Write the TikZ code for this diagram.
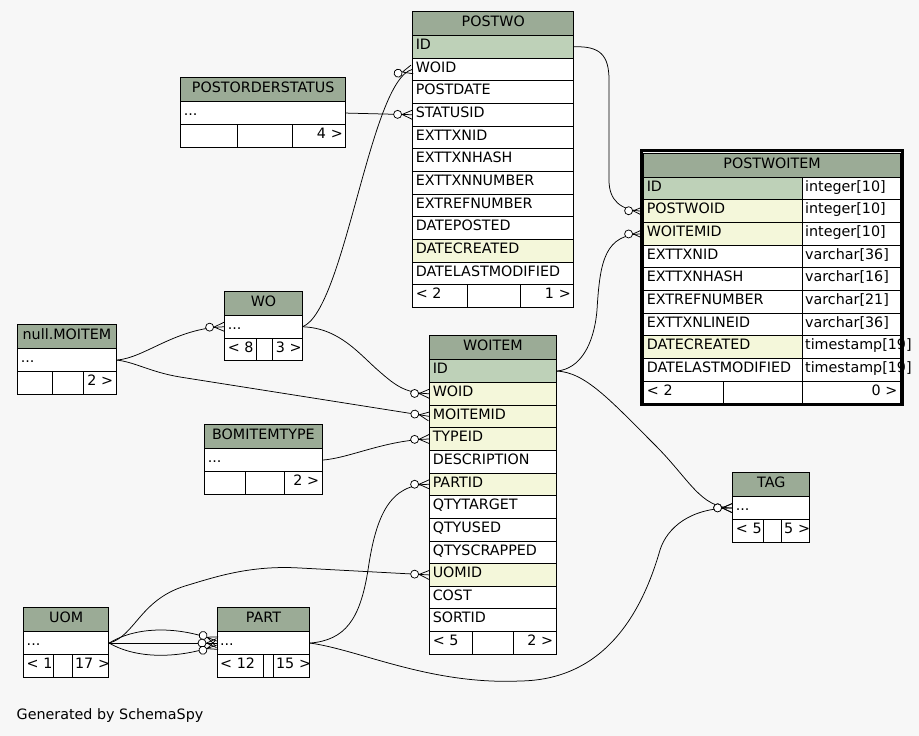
\documentclass[tikz,border=0pt]{standalone}
\usepackage{fontspec}
\setmainfont{DejaVu Sans}
\usetikzlibrary{decorations.markings}
\definecolor{ssHead}{HTML}{9BAB96}
\definecolor{ssKey}{HTML}{BED1B8}
\definecolor{ssIndex}{HTML}{F4F7DA}
\definecolor{ssBack}{HTML}{F7F7F7}
\tikzset{
  tblcell/.style  = {draw, line width=0.9pt, anchor=north west, inner xsep=3pt, inner ysep=1pt,
                     text height=10.5pt, text depth=5pt, font=\fontsize{14.3}{16}\selectfont},
  tblhead/.style  = {tblcell, fill=ssHead, minimum width=#1, minimum height=24pt},
  colrow/.code    = {\pgfmathsetmacro\cellw{#1}\pgfmathsetmacro\celltw{#1-6}%
                     \tikzset{tblcell, fill=white, minimum height=22.65pt,
                              minimum width/.expanded=\cellw pt, text width/.expanded=\celltw pt,
                              align=left}},
  pkrow/.style    = {colrow=#1, fill=ssKey},
  idxrow/.style   = {colrow=#1, fill=ssIndex},
  footrow/.style  = {colrow=#1, align=right},
  relation/.style = {line width=0.75pt, black},
  crowodot/.style = {relation, decoration={markings, mark=at position -0.2pt with {
                       \draw[relation] (-10,0) -- (0,4.5) (-10,0) -- (0,-4.5);
                       \draw[relation, fill=white] (-14.5,0) circle (4pt);}},
                     postaction={decorate}},
  frame/.style    = {line width=3pt, black},
  credit/.style   = {anchor=base west, inner sep=0pt, font=\fontsize{14.3}{16}\selectfont},
}

\begin{document}
\begin{tikzpicture}[x=1pt, y=-1pt]
  \useasboundingbox[fill=ssBack] (0,0) rectangle (919,736);

  % POSTWO
  \node[tblhead=161] (postwo) at (412.3,11) {POSTWO};
  \foreach \col/\kind [count=\i from 0] in {ID/pkrow, WOID/colrow, POSTDATE/colrow, STATUSID/colrow,
      EXTTXNID/colrow, EXTTXNHASH/colrow, EXTTXNNUMBER/colrow, EXTREFNUMBER/colrow,
      DATEPOSTED/colrow, DATECREATED/idxrow, DATELASTMODIFIED/colrow}
    \node[\kind=161] (postwo-\col) at (412.3,{35+22.65*\i}) {\col};
  \node[colrow=55] (postwo-f1) at (412.3,284.15) {\mbox{< 2}};
  \node[colrow=53] (postwo-f2) at (467.3,284.15) {};
  \node[footrow=53] (postwo-f3) at (520.3,284.15) {\mbox{1 >}};

  % WOITEM
  \node[tblhead=126.4] (woitem) at (429.3,335.3) {WOITEM};
  \foreach \col/\kind [count=\i from 0] in {ID/pkrow, WOID/idxrow, MOITEMID/idxrow, TYPEID/idxrow,
      DESCRIPTION/colrow, PARTID/idxrow, QTYTARGET/colrow, QTYUSED/colrow,
      QTYSCRAPPED/colrow, UOMID/idxrow, COST/colrow, SORTID/colrow}
    \node[\kind=126.4] (woitem-\col) at (429.3,{359.3+22.65*\i}) {\col};
  \node[colrow=43] (woitem-f1) at (429.3,631.1) {\mbox{< 5}};
  \node[colrow=41] (woitem-f2) at (472.3,631.1) {};
  \node[footrow=42.4] (woitem-f3) at (513.3,631.1) {\mbox{2 >}};

  % POSTWOITEM
  \node[tblhead=256.7] (postwoitem) at (643.3,152.8) {POSTWOITEM};
  \foreach \col/\kind/\ctype [count=\i from 0] in {ID/pkrow/integer[10], POSTWOID/idxrow/integer[10],
      WOITEMID/idxrow/integer[10], EXTTXNID/colrow/varchar[36], EXTTXNHASH/colrow/varchar[16],
      EXTREFNUMBER/colrow/varchar[21], EXTTXNLINEID/colrow/varchar[36],
      DATECREATED/idxrow/timestamp[19], DATELASTMODIFIED/colrow/timestamp[19]}
  {
    \node[\kind=158.4] (postwoitem-\col) at (643.3,{176.8+22.65*\i}) {\col};
    \node[colrow=98.3] (postwoitem-\col-type) at (801.7,{176.8+22.65*\i}) {\mbox{\ctype}};
  }
  \node[colrow=80] (postwoitem-f1) at (643.3,380.65) {\mbox{< 2}};
  \node[colrow=78.4] (postwoitem-f2) at (723.3,380.65) {};
  \node[footrow=98.3] (postwoitem-f3) at (801.7,380.65) {\mbox{0 >}};

  % collapsed tables
  \foreach \tbl/\tx/\ty/\tw/\ttitle/\da/\db/\fl/\fr in {
      postorderstatus/180.3/77.3/165/POSTORDERSTATUS/236.7/291.7/{}/{4 >},
      wo/224.3/291/77.4/WO/255.7/272.3/{< 8}/{3 >},
      moitem/17.3/324.3/98.4/null.MOITEM/51.7/83.3/{}/{2 >},
      bomitemtype/204.3/424.3/117.4/BOMITEMTYPE/244.7/283.7/{}/{2 >},
      tag/732.3/472.3/77/TAG/763.3/780.7/{< 5}/{5 >},
      uom/23.3/607.3/85/UOM/53.3/71.7/{< 1}/{17 >},
      part/216.7/607.3/92.6/PART/263.3/272.7/{< 12}/{15 >}}
  {
    \node[tblhead=\tw] (\tbl) at (\tx,\ty) {\ttitle};
    \node[colrow=\tw] (\tbl-row) at (\tx,\ty+24) {...};
    \node[colrow={\da-\tx}] (\tbl-f1) at (\tx,\ty+46.65) {\mbox{\fl}};
    \node[colrow={\db-\da}] (\tbl-f2) at (\da,\ty+46.65) {};
    \node[footrow={\tx+\tw-\db}] (\tbl-f3) at (\db,\ty+46.65) {\mbox{\fr}};
  }

  \node[credit] (credit) at (16.5,719.3) {Generated by SchemaSpy};

  % relationships
  \draw[crowodot] (wo-row.east) .. controls (345,310) and (370,80) .. (postwo-WOID.west);
  \draw[crowodot] (postorderstatus-row.east) -- (postwo-STATUSID.west);
  \draw[crowodot] (postwo-ID.east) .. controls (600,46) and (609,55) .. (609,80) -- (609,180)
    .. controls (609,200) and (620,210.5) .. (postwoitem-POSTWOID.west);
  \draw[crowodot] (woitem-ID.east) .. controls (580,369) and (594,345) .. (597,310)
    .. controls (600,260) and (605,234) .. (postwoitem-WOITEMID.west);
  \draw[crowodot] (woitem-ID.east) .. controls (585,372) and (610,400) .. (655,445)
    .. controls (690,480) and (700,507.5) .. (tag-row.west);
  \draw[crowodot] (part-row.east) .. controls (360,650) and (430,685) .. (520,681)
    .. controls (600,680) and (640,620) .. (660,550) .. controls (667,528) and (690,507.5) .. (tag-row.west);
  \draw[crowodot] (wo-row.east) .. controls (340,328) and (360,355) .. (380,372)
    .. controls (395,385) and (405,393.3) .. (woitem-WOID.west);
  \draw[crowodot] (moitem-row.east) .. controls (145,358) and (175,328) .. (wo-row.west);
  \draw[crowodot] (moitem-row.east) .. controls (135,362) and (150,372) .. (180,377) -- (woitem-MOITEMID.west);
  \draw[crowodot] (bomitemtype-row.east) .. controls (350,458) and (385,440) .. (woitem-TYPEID.west);
  \draw[crowodot] (part-row.east) .. controls (345,640) and (360,620) .. (368,570)
    .. controls (376,515) and (390,484) .. (woitem-PARTID.west);
  \draw[crowodot] (uom-row.east) .. controls (135,636) and (140,600) .. (185,586)
    .. controls (215,577) and (250,565) .. (300,568) -- (woitem-UOMID.west);
  \draw[crowodot] (uom-row.east) .. controls (140,624) and (185,628) .. ([yshift=2pt]part-row.west);
  \draw[crowodot] (uom-row.east) -- (part-row.west);
  \draw[crowodot] (uom-row.east) .. controls (140,661) and (185,657) .. ([yshift=-2pt]part-row.west);

  % selected table
  \draw[frame] ([xshift=-2.3pt, yshift=2.3pt]postwoitem.north west)
    rectangle ([xshift=1.2pt, yshift=-0.5pt]postwoitem-f3.south east);
\end{tikzpicture}
\end{document}
